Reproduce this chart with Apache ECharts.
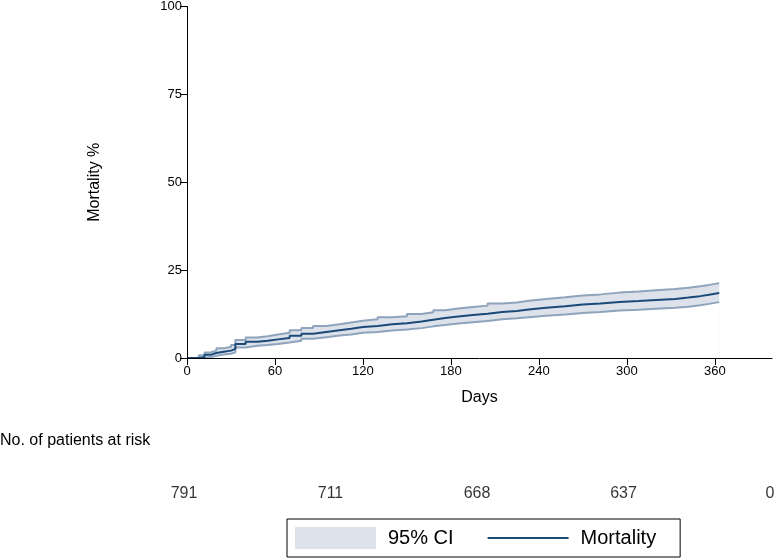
<!DOCTYPE html>
<html>
<head>
<meta charset="utf-8">
<script src="https://cdn.jsdelivr.net/npm/echarts@6/dist/echarts.min.js"></script>
<style>
  html, body { margin: 0; padding: 0; background: #fff; }
  #charts { width: 774px; height: 559px; }
</style>
</head>
<body>
<div id="charts"></div>
<script>
// Kaplan-Meier style mortality estimate with 95% CI
var days = [0, 8, 12, 16, 20, 25, 30, 33, 40, 48, 55, 62, 70, 78, 86, 95, 104, 112, 120, 130, 140,
    150, 160, 168, 176, 185, 195, 205, 215, 225, 233, 245, 258, 270, 282, 295, 308, 320, 333, 342,
    350, 356, 363];
var mortality = [0, 0.3, 0.9, 1.4, 1.8, 2.1, 2.6, 4.0, 4.6, 4.9, 5.3, 5.7, 6.3, 6.9, 7.4, 7.9, 8.3,
    8.8, 9.1, 9.6, 9.9, 10.4, 10.9, 11.4, 11.8, 12.2, 12.6, 13.1, 13.4, 13.8, 14.3, 14.7, 15.2, 15.5,
    15.9, 16.2, 16.5, 16.8, 17.2, 17.6, 18.0, 18.5, 18.6];
var ciLower = [0, 0, 0.3, 0.6, 1.0, 1.2, 1.6, 3.0, 3.5, 3.7, 4.0, 4.4, 4.9, 5.5, 5.9, 6.4, 6.7, 7.2,
    7.4, 7.8, 8.1, 8.5, 9.0, 9.4, 9.8, 10.2, 10.5, 11.0, 11.3, 11.6, 12.0, 12.4, 12.8, 13.1, 13.5,
    13.7, 14.0, 14.3, 14.6, 15.0, 15.4, 15.9, 16.0];
var ciUpper = [0, 0.8, 1.6, 2.1, 2.8, 3.1, 3.7, 5.1, 5.8, 6.2, 6.7, 7.2, 7.9, 8.5, 9.1, 9.6, 10.1,
    10.6, 11.0, 11.6, 11.9, 12.5, 13.0, 13.6, 14.1, 14.5, 14.9, 15.5, 15.8, 16.3, 16.8, 17.3, 17.8,
    18.1, 18.6, 18.9, 19.3, 19.6, 20.0, 20.4, 20.8, 21.3, 21.4];

var xTicks = [0, 60, 120, 180, 240, 300, 360];
var riskTimes = [0, 120, 240, 360, 480];
var riskCounts = [791, 711, 668, 637, 0];

var FONT = 'Liberation Sans, Arial, sans-serif';
var BAND = '#dce1ea';
var EDGE = '#8ea3bc';
var LINE = '#1b4a79';

function pairs(xs, ys) {
    return xs.map(function (x, i) { return [x, ys[i]]; });
}

var myChart = echarts.init(document.getElementById('charts'));
var option = {
    animation: false,
    textStyle: { fontFamily: FONT, color: '#000' },
    title: {
        text: 'No. of patients at risk',
        left: 0,
        top: 433,
        padding: 0,
        textStyle: { fontFamily: FONT, fontSize: 16, fontWeight: 'normal', color: '#000' }
    },
    legend: {
        left: 287,
        top: 519,
        orient: 'horizontal',
        padding: [8, 24, 8, 8],
        borderColor: '#000',
        borderWidth: 1,
        itemWidth: 81,
        itemHeight: 22,
        itemGap: 34,
        symbolKeepAspect: true,
        textStyle: { fontFamily: FONT, fontSize: 20, color: '#000', padding: [0, 0, 0, 7] },
        data: [
            { name: '95% CI', icon: 'rect', itemStyle: { color: BAND, borderWidth: 0 } },
            { name: 'Mortality', icon: 'path://M0,0L80,0L80,2L0,2Z', itemStyle: { color: LINE, borderWidth: 0 } }
        ]
    },
    grid: [
        { left: 187, top: 5, right: 2, bottom: 201 },
        { left: 184, top: 480, right: 4, height: 28 }
    ],
    xAxis: [{
        type: 'value',
        gridIndex: 0,
        z: 5,
        min: 0,
        max: 399,
        interval: 60,
        name: 'Days',
        nameLocation: 'middle',
        nameGap: 32,
        nameTextStyle: { fontFamily: FONT, fontSize: 16, color: '#000' },
        axisLine: { lineStyle: { color: '#000', width: 1 } },
        axisTick: { show: true, length: 7, customValues: xTicks, lineStyle: { color: '#000' } },
        axisLabel: { customValues: xTicks, fontFamily: FONT, fontSize: 13, color: '#000', margin: 7 },
        splitLine: { show: false }
    }, {
        type: 'value',
        gridIndex: 1,
        min: 0,
        max: 480,
        show: false
    }],
    yAxis: [{
        type: 'value',
        gridIndex: 0,
        z: 5,
        min: 0,
        max: 100,
        interval: 25,
        name: 'Mortality %',
        nameLocation: 'middle',
        nameRotate: 90,
        nameGap: 84,
        nameTextStyle: { fontFamily: FONT, fontSize: 16, color: '#000' },
        axisLine: { show: true, lineStyle: { color: '#000', width: 1 } },
        axisTick: { show: true, length: 7, lineStyle: { color: '#000' } },
        axisLabel: { fontFamily: FONT, fontSize: 13, color: '#000', margin: 5 },
        splitLine: { show: false }
    }, {
        type: 'value',
        gridIndex: 1,
        min: 0,
        max: 1,
        show: false
    }],
    series: [{
        // upper CI bound, band fill down to the axis
        name: '95% CI',
        type: 'line',
        step: 'end',
        symbol: 'none',
        data: pairs(days, ciUpper),
        itemStyle: { color: BAND },
        lineStyle: { color: EDGE, width: 2 },
        areaStyle: { color: BAND, opacity: 1 },
        z: 1
    }, {
        // lower CI bound, white fill clears the band below it
        name: 'ci-lower',
        type: 'line',
        step: 'end',
        symbol: 'none',
        data: pairs(days, ciLower),
        lineStyle: { color: EDGE, width: 2 },
        areaStyle: { color: '#fff', opacity: 1 },
        z: 2
    }, {
        name: 'Mortality',
        type: 'line',
        step: 'end',
        symbol: 'none',
        data: pairs(days, mortality),
        itemStyle: { color: LINE },
        lineStyle: { color: LINE, width: 2 },
        z: 3
    }, {
        name: 'at risk',
        type: 'scatter',
        xAxisIndex: 1,
        yAxisIndex: 1,
        symbolSize: 1,
        itemStyle: { color: 'rgba(0,0,0,0)' },
        data: riskTimes.map(function (t, i) { return [t, 0.5, riskCounts[i]]; }),
        label: {
            show: true,
            position: 'inside',
            fontFamily: FONT,
            fontSize: 16,
            color: '#000',
            formatter: function (p) { return p.value[2]; }
        },
        silent: true
    }]
};
myChart.setOption(option);
</script>
</body>
</html>
